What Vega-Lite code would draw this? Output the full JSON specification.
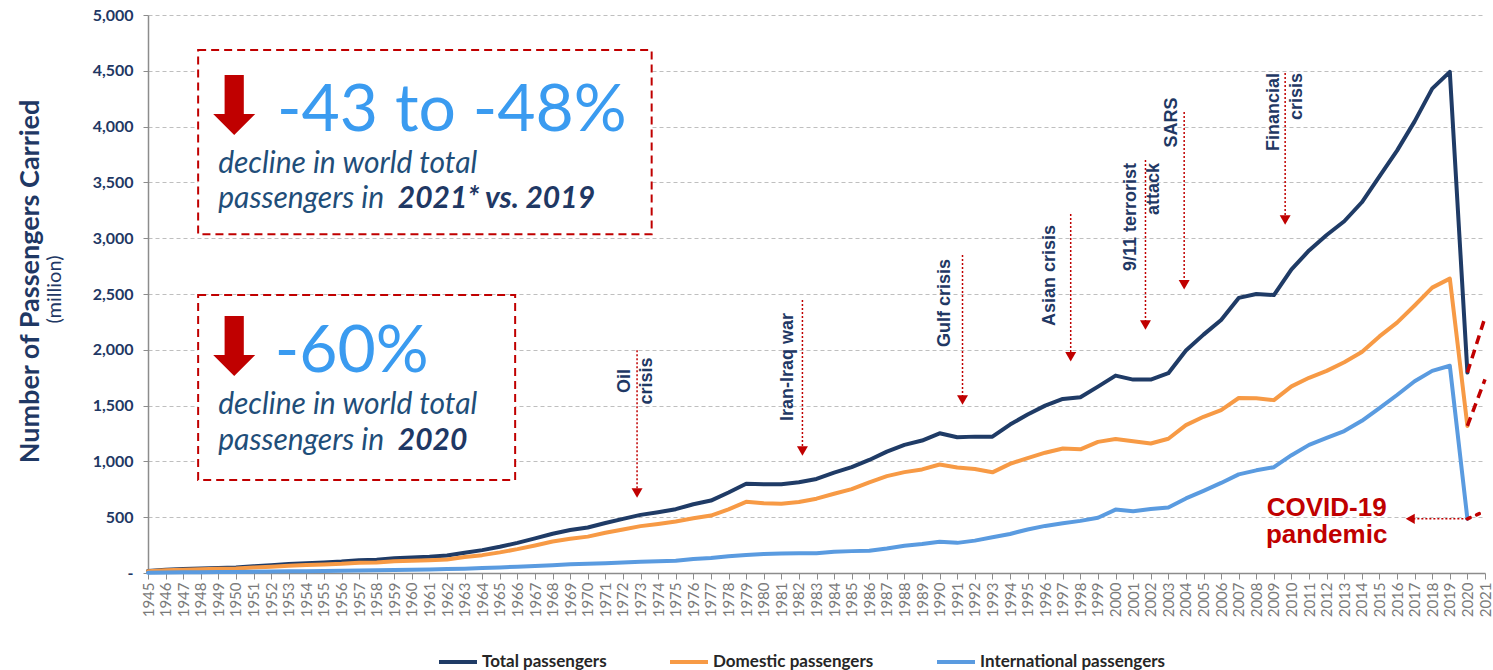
{
  "$schema": "https://vega.github.io/schema/vega-lite/v6.json",
  "autosize": "none",
  "width": 1337,
  "height": 558,
  "padding": {"left": 148, "top": 15, "right": 8, "bottom": 97},
  "background": "white",
  "config": {"view": {"stroke": null}},
  "encoding": {
    "x": {"field": "year", "type": "quantitative",
      "scale": {"domain": [1945, 2021], "nice": false, "zero": false},
      "axis": {"title": null, "values": [1945,1946,1947,1948,1949,1950,1951,1952,1953,1954,1955,1956,1957,1958,1959,1960,1961,1962,1963,1964,1965,1966,1967,1968,1969,1970,1971,1972,1973,1974,1975,1976,1977,1978,1979,1980,1981,1982,1983,1984,1985,1986,1987,1988,1989,1990,1991,1992,1993,1994,1995,1996,1997,1998,1999,2000,2001,2002,2003,2004,2005,2006,2007,2008,2009,2010,2011,2012,2013,2014,2015,2016,2017,2018,2019,2020,2021],
        "format": "d", "labelAngle": 270, "labelAlign": "right", "labelBaseline": "middle",
        "labelFont": "Lato", "labelFontSize": 15, "labelColor": "#7a7a7a", "labelPadding": 3,
        "labelOverlap": false, "labelFlush": false, "labelBound": false,
        "tickSize": 6, "tickColor": "#8c8c8c", "domainColor": "#8c8c8c", "domainWidth": 1.5, "grid": false}},
    "y": {"field": "value", "type": "quantitative",
      "scale": {"domain": [0, 5000], "nice": false},
      "axis": {"title": "Number of Passengers Carried", "values": [0,500,1000,1500,2000,2500,3000,3500,4000,4500,5000],
        "labelExpr": "datum.value == 0 ? '-\u00a0\u00a0\u00a0\u00a0' : format(datum.value, ',')",
        "labelFont": "Lato", "labelFontSize": 16, "labelFontWeight": "bold", "labelColor": "#1F3864", "labelPadding": 10,
        "tickSize": 5, "tickColor": "#8c8c8c", "domainColor": "#8c8c8c", "domainWidth": 1.5,
        "grid": true, "gridColor": "#BFBFBF", "gridDash": [4, 3], "gridWidth": 1,
        "titleFont": "Lato", "titleFontSize": 27, "titleFontWeight": "bold", "titleColor": "#1F3864",
        "titleAngle": 270, "titleX": -118, "titleY": 266, "titleAlign": "center", "titleBaseline": "middle"}}
  },
  "layer": [
    {
      "data": {"values": [
        {"year": 1947.85, "year2": 1973.63, "value": 4686, "value2": 3035},
        {"year": 1947.85, "year2": 1965.87, "value": 2491, "value2": 833}
      ]},
      "mark": {"type": "rect", "fill": "white", "stroke": "#C00000", "strokeWidth": 2, "strokeDash": [8, 5]},
      "encoding": {"x2": {"field": "year2"}, "y2": {"field": "value2"}}
    },
    {
      "data": {"values": [
        {"year": 1945, "Total passengers": 18, "Domestic passengers": 15, "International passengers": 3},
        {"year": 1946, "Total passengers": 30, "Domestic passengers": 25, "International passengers": 5},
        {"year": 1947, "Total passengers": 36, "Domestic passengers": 30, "International passengers": 6},
        {"year": 1948, "Total passengers": 40, "Domestic passengers": 33, "International passengers": 7},
        {"year": 1949, "Total passengers": 45, "Domestic passengers": 37, "International passengers": 8},
        {"year": 1950, "Total passengers": 50, "Domestic passengers": 41, "International passengers": 9},
        {"year": 1951, "Total passengers": 60, "Domestic passengers": 49, "International passengers": 11},
        {"year": 1952, "Total passengers": 70, "Domestic passengers": 57, "International passengers": 13},
        {"year": 1953, "Total passengers": 80, "Domestic passengers": 65, "International passengers": 15},
        {"year": 1954, "Total passengers": 87, "Domestic passengers": 71, "International passengers": 16},
        {"year": 1955, "Total passengers": 94, "Domestic passengers": 76, "International passengers": 18},
        {"year": 1956, "Total passengers": 102, "Domestic passengers": 82, "International passengers": 20},
        {"year": 1957, "Total passengers": 115, "Domestic passengers": 92, "International passengers": 23},
        {"year": 1958, "Total passengers": 118, "Domestic passengers": 94, "International passengers": 24},
        {"year": 1959, "Total passengers": 132, "Domestic passengers": 105, "International passengers": 27},
        {"year": 1960, "Total passengers": 140, "Domestic passengers": 110, "International passengers": 30},
        {"year": 1961, "Total passengers": 146, "Domestic passengers": 114, "International passengers": 32},
        {"year": 1962, "Total passengers": 156, "Domestic passengers": 121, "International passengers": 35},
        {"year": 1963, "Total passengers": 182, "Domestic passengers": 143, "International passengers": 39},
        {"year": 1964, "Total passengers": 205, "Domestic passengers": 160, "International passengers": 45},
        {"year": 1965, "Total passengers": 235, "Domestic passengers": 185, "International passengers": 50},
        {"year": 1966, "Total passengers": 270, "Domestic passengers": 214, "International passengers": 56},
        {"year": 1967, "Total passengers": 310, "Domestic passengers": 247, "International passengers": 63},
        {"year": 1968, "Total passengers": 352, "Domestic passengers": 282, "International passengers": 70},
        {"year": 1969, "Total passengers": 385, "Domestic passengers": 307, "International passengers": 78},
        {"year": 1970, "Total passengers": 408, "Domestic passengers": 326, "International passengers": 82},
        {"year": 1971, "Total passengers": 448, "Domestic passengers": 360, "International passengers": 88},
        {"year": 1972, "Total passengers": 485, "Domestic passengers": 390, "International passengers": 95},
        {"year": 1973, "Total passengers": 521, "Domestic passengers": 420, "International passengers": 101},
        {"year": 1974, "Total passengers": 545, "Domestic passengers": 440, "International passengers": 105},
        {"year": 1975, "Total passengers": 572, "Domestic passengers": 462, "International passengers": 110},
        {"year": 1976, "Total passengers": 616, "Domestic passengers": 490, "International passengers": 126},
        {"year": 1977, "Total passengers": 649, "Domestic passengers": 515, "International passengers": 134},
        {"year": 1978, "Total passengers": 721, "Domestic passengers": 570, "International passengers": 151},
        {"year": 1979, "Total passengers": 799, "Domestic passengers": 638, "International passengers": 161},
        {"year": 1980, "Total passengers": 796, "Domestic passengers": 625, "International passengers": 171},
        {"year": 1981, "Total passengers": 796, "Domestic passengers": 621, "International passengers": 175},
        {"year": 1982, "Total passengers": 813, "Domestic passengers": 636, "International passengers": 177},
        {"year": 1983, "Total passengers": 843, "Domestic passengers": 666, "International passengers": 177},
        {"year": 1984, "Total passengers": 900, "Domestic passengers": 710, "International passengers": 190},
        {"year": 1985, "Total passengers": 948, "Domestic passengers": 752, "International passengers": 196},
        {"year": 1986, "Total passengers": 1013, "Domestic passengers": 813, "International passengers": 200},
        {"year": 1987, "Total passengers": 1088, "Domestic passengers": 868, "International passengers": 220},
        {"year": 1988, "Total passengers": 1148, "Domestic passengers": 904, "International passengers": 244},
        {"year": 1989, "Total passengers": 1187, "Domestic passengers": 928, "International passengers": 259},
        {"year": 1990, "Total passengers": 1252, "Domestic passengers": 972, "International passengers": 280},
        {"year": 1991, "Total passengers": 1216, "Domestic passengers": 946, "International passengers": 270},
        {"year": 1992, "Total passengers": 1222, "Domestic passengers": 932, "International passengers": 290},
        {"year": 1993, "Total passengers": 1222, "Domestic passengers": 902, "International passengers": 320},
        {"year": 1994, "Total passengers": 1330, "Domestic passengers": 978, "International passengers": 350},
        {"year": 1995, "Total passengers": 1420, "Domestic passengers": 1030, "International passengers": 390},
        {"year": 1996, "Total passengers": 1500, "Domestic passengers": 1078, "International passengers": 422},
        {"year": 1997, "Total passengers": 1560, "Domestic passengers": 1115, "International passengers": 445},
        {"year": 1998, "Total passengers": 1575, "Domestic passengers": 1108, "International passengers": 467},
        {"year": 1999, "Total passengers": 1670, "Domestic passengers": 1175, "International passengers": 495},
        {"year": 2000, "Total passengers": 1769, "Domestic passengers": 1201, "International passengers": 568},
        {"year": 2001, "Total passengers": 1733, "Domestic passengers": 1180, "International passengers": 553},
        {"year": 2002, "Total passengers": 1733, "Domestic passengers": 1160, "International passengers": 573},
        {"year": 2003, "Total passengers": 1790, "Domestic passengers": 1203, "International passengers": 587},
        {"year": 2004, "Total passengers": 1993, "Domestic passengers": 1325, "International passengers": 668},
        {"year": 2005, "Total passengers": 2136, "Domestic passengers": 1400, "International passengers": 736},
        {"year": 2006, "Total passengers": 2267, "Domestic passengers": 1460, "International passengers": 807},
        {"year": 2007, "Total passengers": 2465, "Domestic passengers": 1568, "International passengers": 884},
        {"year": 2008, "Total passengers": 2500, "Domestic passengers": 1565, "International passengers": 920},
        {"year": 2009, "Total passengers": 2490, "Domestic passengers": 1549, "International passengers": 948},
        {"year": 2010, "Total passengers": 2721, "Domestic passengers": 1672, "International passengers": 1056},
        {"year": 2011, "Total passengers": 2890, "Domestic passengers": 1749, "International passengers": 1148},
        {"year": 2012, "Total passengers": 3029, "Domestic passengers": 1811, "International passengers": 1210},
        {"year": 2013, "Total passengers": 3152, "Domestic passengers": 1888, "International passengers": 1272},
        {"year": 2014, "Total passengers": 3322, "Domestic passengers": 1981, "International passengers": 1364},
        {"year": 2015, "Total passengers": 3553, "Domestic passengers": 2120, "International passengers": 1478},
        {"year": 2016, "Total passengers": 3785, "Domestic passengers": 2243, "International passengers": 1595},
        {"year": 2017, "Total passengers": 4047, "Domestic passengers": 2397, "International passengers": 1718},
        {"year": 2018, "Total passengers": 4340, "Domestic passengers": 2557, "International passengers": 1811},
        {"year": 2019, "Total passengers": 4490, "Domestic passengers": 2638, "International passengers": 1857},
        {"year": 2020, "Total passengers": 1796, "Domestic passengers": 1318, "International passengers": 485}
      ]},
      "transform": [{"fold": ["Total passengers", "Domestic passengers", "International passengers"], "as": ["series", "value"]}],
      "mark": {"type": "line", "strokeWidth": 4, "strokeJoin": "round", "strokeCap": "round"},
      "encoding": {
        "color": {"field": "series", "type": "nominal",
          "scale": {"domain": ["Total passengers", "Domestic passengers", "International passengers"], "range": ["#1F3B66", "#F79A45", "#5A9BE0"]},
          "legend": {"orient": "none", "legendX": 289, "legendY": 626, "direction": "horizontal", "title": null,
            "symbolType": "stroke", "symbolSize": 1444, "symbolStrokeWidth": 4,
            "labelFont": "Lato", "labelFontSize": 17, "labelFontWeight": "bold", "labelColor": "#262626", "labelLimit": 400,
            "columnPadding": 55, "labelOffset": 3}},
        "order": {"field": "year", "type": "quantitative"}
      }
    },
    {
      "data": {"values": [
        {"s": "T", "year": 2020, "value": 1796}, {"s": "T", "year": 2021, "value": 2290},
        {"s": "D", "year": 2020, "value": 1318}, {"s": "D", "year": 2021, "value": 1734}
      ]},
      "mark": {"type": "line", "color": "#C00000", "strokeWidth": 3.5, "strokeDash": [9, 6]},
      "encoding": {"detail": {"field": "s"}}
    },
    {
      "data": {"values": [{"year": 2020, "value": 485}, {"year": 2021, "value": 555}]},
      "mark": {"type": "line", "color": "#C00000", "strokeWidth": 3.5, "strokeDash": [3, 7], "strokeCap": "round"},
      "encoding": {}
    },
    {
      "data": {"values": [{"year": 2016.7, "year2": 2020, "value": 485}]},
      "mark": {"type": "rule", "color": "#C00000", "strokeWidth": 1.5, "strokeDash": [2, 2]},
      "encoding": {"x2": {"field": "year2"}}
    },
    {
      "data": {"values": [{"year": 2016.75, "value": 485}]},
      "mark": {"type": "point", "shape": "triangle-left", "size": 110, "filled": true, "color": "#C00000", "opacity": 1},
      "encoding": {}
    },
    {
      "data": {"values": [
        {"year": 1972.8, "value": 1997, "value2": 717},
        {"year": 1982.2, "value": 2446, "value2": 1093},
        {"year": 1991.3, "value": 2849, "value2": 1550},
        {"year": 1997.45, "value": 3217, "value2": 1938},
        {"year": 2001.7, "value": 3700, "value2": 2222},
        {"year": 2003.9, "value": 4131, "value2": 2583},
        {"year": 2009.64, "value": 4480, "value2": 3163}
      ]},
      "mark": {"type": "rule", "color": "#C00000", "strokeWidth": 1.5, "strokeDash": [2, 2]},
      "encoding": {"y2": {"field": "value2"}}
    },
    {
      "data": {"values": [
        {"year": 1972.8, "value": 717},
        {"year": 1982.2, "value": 1093},
        {"year": 1991.3, "value": 1550},
        {"year": 1997.45, "value": 1938},
        {"year": 2001.7, "value": 2222},
        {"year": 2003.9, "value": 2583},
        {"year": 2009.64, "value": 3163}
      ]},
      "mark": {"type": "point", "shape": "triangle-down", "size": 120, "filled": true, "color": "#C00000", "opacity": 1},
      "encoding": {}
    },
    {
      "data": {"values": [
        {"year": 1972.14, "value": 1720, "label": "Oil\ncrisis"},
        {"year": 1981.4, "value": 1846, "label": "Iran-Iraq war"},
        {"year": 1990.3, "value": 2419, "label": "Gulf crisis"},
        {"year": 1996.3, "value": 2666, "label": "Asian crisis"},
        {"year": 2003.2, "value": 4037, "label": "SARS"}
      ]},
      "mark": {"type": "text", "angle": 270, "align": "center", "baseline": "middle", "lineBreak": "\n", "lineHeight": 22,
        "font": "Liberation Sans", "fontSize": 18, "fontWeight": "bold", "color": "#1F3864"},
      "encoding": {"text": {"field": "label"}}
    },
    {
      "data": {"values": [
        {"year": 2000.87, "value": 3674, "label": "9/11 terrorist\nattack"},
        {"year": 2009.0, "value": 4480, "label": "Financial\ncrisis"}
      ]},
      "mark": {"type": "text", "angle": 270, "align": "right", "baseline": "middle", "lineBreak": "\n", "lineHeight": 23,
        "font": "Liberation Sans", "fontSize": 18, "fontWeight": "bold", "color": "#1F3864"},
      "encoding": {"text": {"field": "label"}}
    },
    {
      "data": {"values": [{"year": 2012.0, "value": 582, "label": "COVID-19\npandemic"}]},
      "mark": {"type": "text", "align": "center", "baseline": "middle", "lineBreak": "\n", "lineHeight": 27,
        "font": "Liberation Sans", "fontSize": 26, "fontWeight": "bold", "color": "#C00000"},
      "encoding": {"text": {"field": "label"}}
    },
    {
      "data": {"values": [{"year": 1949.9, "value": 4194}, {"year": 1949.9, "value": 2034}]},
      "mark": {"type": "point", "shape": "M-0.32,-1L0.32,-1L0.32,0.3L0.7,0.3L0,1L-0.7,0.3L-0.32,0.3Z", "size": 3600, "filled": true, "color": "#C00000", "opacity": 1},
      "encoding": {}
    },
    {
      "data": {"values": [
        {"year": 1952.33, "value": 3963, "label": "-43 to -48%"},
        {"year": 1952.2, "value": 1801, "label": "-60%"}
      ]},
      "mark": {"type": "text", "align": "left", "baseline": "alphabetic", "font": "Lato", "fontSize": 66, "color": "#3A9BF0"},
      "encoding": {"text": {"field": "label"}}
    },
    {
      "data": {"values": [
        {"year": 1948.99, "value": 3587, "label": "decline in world total"},
        {"year": 1948.99, "value": 3268, "label": "passengers in"},
        {"year": 1948.99, "value": 1425, "label": "decline in world total"},
        {"year": 1948.99, "value": 1106, "label": "passengers in"}
      ]},
      "mark": {"type": "text", "align": "left", "baseline": "alphabetic", "font": "Lato", "fontSize": 30, "fontStyle": "italic", "color": "#1F4E79"},
      "encoding": {"text": {"field": "label"}}
    },
    {
      "data": {"values": [
        {"year": 1959.2, "value": 3268, "label": "2021* vs. 2019"},
        {"year": 1959.2, "value": 1106, "label": "2020"}
      ]},
      "mark": {"type": "text", "align": "left", "baseline": "alphabetic", "font": "Lato", "fontSize": 30, "fontStyle": "italic", "fontWeight": "bold", "color": "#1F3864"},
      "encoding": {"text": {"field": "label"}}
    },
    {
      "data": {"values": [{"year": 1939.7, "value": 2540, "label": "(million)"}]},
      "mark": {"type": "text", "angle": 270, "align": "center", "baseline": "middle", "font": "Lato", "fontSize": 20, "color": "#1F3864"},
      "encoding": {"text": {"field": "label"}}
    }
  ]
}
